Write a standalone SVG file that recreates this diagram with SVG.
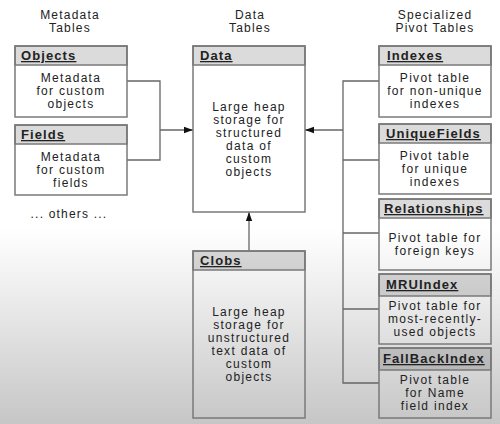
<svg xmlns="http://www.w3.org/2000/svg" width="500" height="424" viewBox="0 0 500 424">
<defs>
<linearGradient id="bg" x1="0" y1="0" x2="0" y2="424" gradientUnits="userSpaceOnUse">
<stop offset="0" stop-color="#ffffff"/>
<stop offset="0.54" stop-color="#ffffff"/>
<stop offset="0.7" stop-color="#ececec"/>
<stop offset="1" stop-color="#c6c6c6"/>
</linearGradient>
<marker id="arr" viewBox="0 0 10 10" refX="10" refY="5" markerWidth="9" markerHeight="9" markerUnits="userSpaceOnUse" orient="auto">
<path d="M0,1.5 L10,5 L0,8.5 Z" fill="#111"/>
</marker>
<style>
.box{fill:none;stroke:#7a7a7a;stroke-width:1.5}
.hdr{fill:#000;fill-opacity:0.14;stroke:#7a7a7a;stroke-width:1.5}
.ttl{font-family:"Liberation Sans",Arial,sans-serif;font-size:13px;font-weight:bold;fill:#222;text-decoration:underline;letter-spacing:1.1px}
.txt{font-family:"Liberation Sans",Arial,sans-serif;font-size:12px;fill:#222;text-anchor:middle;letter-spacing:1.3px}
.col{font-family:"Liberation Sans",Arial,sans-serif;font-size:12px;fill:#222;text-anchor:middle;letter-spacing:1.2px}
.ln{fill:none;stroke:#666;stroke-width:1.3}
</style>
</defs>
<rect x="0" y="0" width="500" height="424" fill="url(#bg)"/>

<g id="titles">
<text class="col" x="70" y="19">Metadata</text>
<text class="col" x="70" y="32">Tables</text>
<text class="col" x="250" y="19">Data</text>
<text class="col" x="250" y="32">Tables</text>
<text class="col" x="435" y="19">Specialized</text>
<text class="col" x="435" y="32">Pivot Tables</text>
<text class="col" x="69" y="218">... others ...</text>
</g>

<g id="connectors">
<polyline class="ln" points="127,81 160,81 160,160 127,160"/>
<line class="ln" x1="160" y1="130" x2="193" y2="130" marker-end="url(#arr)"/>
<polyline class="ln" points="379,81 343,81 343,383 379,383"/>
<line class="ln" x1="343" y1="160" x2="379" y2="160"/>
<line class="ln" x1="343" y1="233" x2="379" y2="233"/>
<line class="ln" x1="343" y1="309" x2="379" y2="309"/>
<line class="ln" x1="343" y1="130" x2="305" y2="130" marker-end="url(#arr)"/>
<line class="ln" x1="249" y1="251" x2="249" y2="212" marker-end="url(#arr)"/>
</g>

<g id="objects">
<rect class="box" x="15" y="46" width="112" height="71"/>
<rect class="hdr" x="15" y="46" width="112" height="19"/>
<text class="ttl" x="21" y="60">Objects</text>
<text class="txt" x="71" y="82">Metadata</text>
<text class="txt" x="71" y="95">for custom</text>
<text class="txt" x="71" y="108">objects</text>
</g>

<g id="fields">
<rect class="box" x="15" y="125" width="112" height="70"/>
<rect class="hdr" x="15" y="125" width="112" height="19"/>
<text class="ttl" x="21" y="139">Fields</text>
<text class="txt" x="71" y="161">Metadata</text>
<text class="txt" x="71" y="174">for custom</text>
<text class="txt" x="71" y="187">fields</text>
</g>

<g id="data">
<rect class="box" x="193" y="46" width="112" height="166"/>
<rect class="hdr" x="193" y="46" width="112" height="19"/>
<text class="ttl" x="200" y="60">Data</text>
<text class="txt" x="249" y="111">Large heap</text>
<text class="txt" x="249" y="124">storage for</text>
<text class="txt" x="249" y="137">structured</text>
<text class="txt" x="249" y="150">data of</text>
<text class="txt" x="249" y="163">custom</text>
<text class="txt" x="249" y="176">objects</text>
</g>

<g id="clobs">
<rect class="box" x="193" y="251" width="112" height="167"/>
<rect class="hdr" x="193" y="251" width="112" height="19"/>
<text class="ttl" x="200" y="265">Clobs</text>
<text class="txt" x="249" y="316">Large heap</text>
<text class="txt" x="249" y="329">storage for</text>
<text class="txt" x="249" y="342">unstructured</text>
<text class="txt" x="249" y="355">text data of</text>
<text class="txt" x="249" y="368">custom</text>
<text class="txt" x="249" y="381">objects</text>
</g>

<g id="indexes">
<rect class="box" x="379" y="46" width="112" height="71"/>
<rect class="hdr" x="379" y="46" width="112" height="19"/>
<text class="ttl" x="387" y="60">Indexes</text>
<text class="txt" x="435" y="82">Pivot table</text>
<text class="txt" x="435" y="95">for non-unique</text>
<text class="txt" x="435" y="108">indexes</text>
</g>

<g id="uniquefields">
<rect class="box" x="379" y="124" width="112" height="70"/>
<rect class="hdr" x="379" y="124" width="112" height="19"/>
<text class="ttl" x="386" y="138">UniqueFields</text>
<text class="txt" x="435" y="160">Pivot table</text>
<text class="txt" x="435" y="173">for unique</text>
<text class="txt" x="435" y="186">indexes</text>
</g>

<g id="relationships">
<rect class="box" x="379" y="199" width="112" height="71"/>
<rect class="hdr" x="379" y="199" width="112" height="19"/>
<text class="ttl" x="384" y="213">Relationships</text>
<text class="txt" x="435" y="242">Pivot table for</text>
<text class="txt" x="435" y="255">foreign keys</text>
</g>

<g id="mruindex">
<rect class="box" x="379" y="274" width="112" height="70"/>
<rect class="hdr" x="379" y="274" width="112" height="22"/>
<text class="ttl" x="386" y="289">MRUIndex</text>
<text class="txt" x="435" y="310">Pivot table for</text>
<text class="txt" x="435" y="323">most-recently-</text>
<text class="txt" x="435" y="336">used objects</text>
</g>

<g id="fallbackindex">
<rect class="box" x="379" y="348" width="112" height="70"/>
<rect class="hdr" x="379" y="348" width="112" height="22"/>
<text class="ttl" x="383" y="363">FallBackIndex</text>
<text class="txt" x="435" y="384">Pivot table</text>
<text class="txt" x="435" y="397">for Name</text>
<text class="txt" x="435" y="410">field index</text>
</g>
</svg>
